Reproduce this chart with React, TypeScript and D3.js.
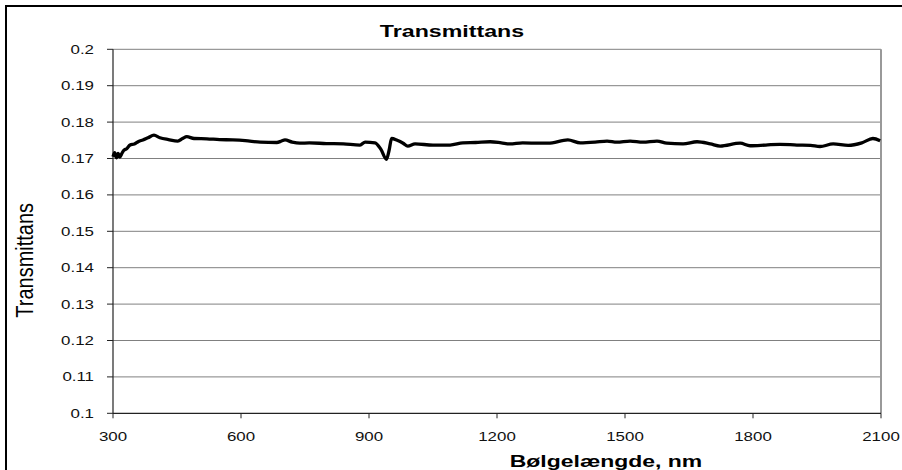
import React from "react";
import * as d3 from "d3";

// wavelength in nm
const wavelength = [
  300, 304, 308, 312, 316, 320, 325, 332, 340, 350, 360, 370, 382, 396, 410, 430,
  452, 463, 473, 490, 520, 550, 581, 610, 645, 684, 695, 703, 720, 738, 760, 800,
  840, 879, 891, 914, 928, 941, 947, 953, 966, 980, 991, 1008, 1050, 1090, 1120,
  1150, 1184, 1210, 1230, 1260, 1301, 1320, 1366, 1395, 1430, 1458, 1481, 1512,
  1542, 1575, 1598, 1636, 1669, 1700, 1723, 1770, 1793, 1830, 1863, 1903, 1935,
  1957, 1988, 2023, 2055, 2081, 2098,
];

const transmittance = [
  0.1705, 0.1716, 0.1702, 0.1714, 0.1704, 0.1712, 0.1722, 0.1727, 0.1737, 0.174,
  0.1747, 0.1751, 0.1757, 0.1764, 0.1757, 0.1752, 0.1748, 0.1755, 0.176, 0.1755,
  0.1754, 0.1752, 0.1751, 0.1749, 0.1745, 0.1744, 0.1748, 0.1751, 0.1745, 0.1742,
  0.1743, 0.1741, 0.174, 0.1737, 0.1745, 0.1743, 0.1725, 0.1698, 0.1722, 0.1755,
  0.175, 0.1742, 0.1734, 0.174, 0.1737, 0.1737, 0.1743, 0.1744, 0.1746, 0.1743,
  0.174, 0.1743, 0.1742, 0.1742, 0.1751, 0.1743, 0.1745, 0.1748, 0.1745, 0.1748,
  0.1745, 0.1748, 0.1742, 0.174, 0.1746, 0.174, 0.1734, 0.1742, 0.1735, 0.1737,
  0.1739, 0.1737, 0.1736, 0.1733, 0.174, 0.1736, 0.1743, 0.1755, 0.1749,
];

const xTicks = [300, 600, 900, 1200, 1500, 1800, 2100];
const yTicks = [0.1, 0.11, 0.12, 0.13, 0.14, 0.15, 0.16, 0.17, 0.18, 0.19, 0.2];

const W = 902;
const H = 470;
const left = 113, right = 881, top = 49.3, bottom = 413.3;
const font = "'Liberation Sans', Arial, sans-serif";
const STRETCH = 1.3; // the picture's text is wider than normal Arial

export default function App() {
  const x = d3.scaleLinear().domain([300, 2100]).range([left, right]);
  const y = d3.scaleLinear().domain([0.1, 0.2]).range([bottom, top]);

  const points: [number, number][] = wavelength.map((w, i) => [w, transmittance[i]]);
  const line = d3
    .line<[number, number]>()
    .x((d) => x(d[0]))
    .y((d) => y(d[1]))
    .curve(d3.curveMonotoneX);

  const wide = (tx: number, ty: number, s = STRETCH) => `translate(${tx},${ty}) scale(${s},1)`;

  return (
    <svg
      width={W}
      height={H}
      style={{ position: "absolute", left: 0, top: 0, background: "#fff" }}
    >
      <rect x={6} y={6} width={W} height={H} fill="#fff" stroke="#000" strokeWidth={2} />

      {/* gridlines */}
      {yTicks.slice(1).map((t) => (
        <line key={t} x1={left} x2={right} y1={y(t)} y2={y(t)} stroke="#808080" strokeWidth={1} />
      ))}
      <line x1={right} x2={right} y1={top} y2={bottom} stroke="#999" strokeWidth={2} />

      {/* axes */}
      <line x1={left} x2={left} y1={top} y2={bottom} stroke="#222" strokeWidth={1.2} />
      <line x1={left} x2={right} y1={bottom} y2={bottom} stroke="#222" strokeWidth={1.2} />
      {yTicks.map((t) => (
        <g key={t}>
          <line x1={left - 6} x2={left} y1={y(t)} y2={y(t)} stroke="#222" strokeWidth={1} />
          <text
            transform={wide(94, y(t) + 4.5)}
            textAnchor="end"
            fontFamily={font}
            fontSize={13}
            fill="#111"
          >
            {t === 0.1 || t === 0.2 ? t.toFixed(1) : t.toFixed(2)}
          </text>
        </g>
      ))}
      {xTicks.map((t) => (
        <g key={t}>
          <line x1={x(t)} x2={x(t)} y1={bottom} y2={bottom + 5} stroke="#222" strokeWidth={1} />
          <text
            transform={wide(x(t), 441)}
            textAnchor="middle"
            fontFamily={font}
            fontSize={13}
            fill="#111"
          >
            {t}
          </text>
        </g>
      ))}

      {/* data */}
      <path
        d={line(points) ?? ""}
        fill="none"
        stroke="#000"
        strokeWidth={3.3}
        strokeLinejoin="round"
      />

      {/* titles */}
      <text
        transform={wide(452, 37, 1.45)}
        textAnchor="middle"
        fontFamily={font}
        fontSize={16}
        fontWeight="bold"
      >
        Transmittans
      </text>
      <text
        transform={wide(606, 467, 1.35)}
        textAnchor="middle"
        fontFamily={font}
        fontSize={17}
        fontWeight="bold"
      >
        Bølgelængde, nm
      </text>
      <text
        transform={`translate(33,${(top + bottom) / 2 + 29}) rotate(-90) scale(1,1.15)`}
        textAnchor="middle"
        fontFamily={font}
        fontSize={20}
      >
        Transmittans
      </text>
    </svg>
  );
}
